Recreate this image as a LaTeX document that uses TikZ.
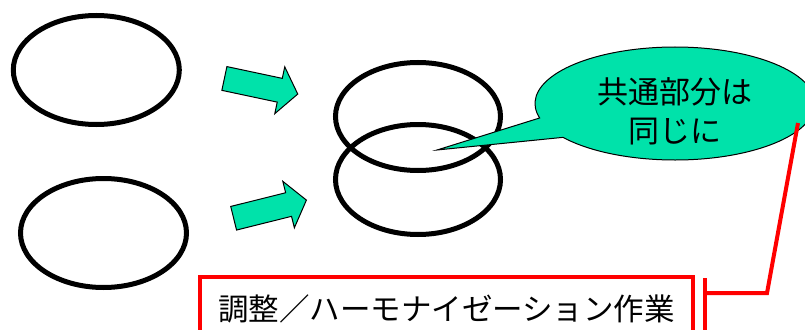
\documentclass[tikz,border=0pt]{standalone}
\usepackage{fontspec}
\newfontfamily\jp{Noto Sans CJK JP}
\usetikzlibrary{shapes.geometric,shapes.arrows,shapes.callouts}
\definecolor{mint}{RGB}{0,226,170}
\definecolor{pred}{RGB}{255,0,0}
\tikzset{
  ring/.style={draw=black, line width=5pt, ellipse, inner sep=0pt, outer sep=0pt,
    minimum width=166pt, minimum height=109pt},
  fatarrow/.style={single arrow, draw=black, line width=1pt, fill=mint,
    inner xsep=0pt, inner ysep=11.65pt, text height=0pt, text depth=0pt,
    minimum height=75pt, minimum width=47pt, single arrow head extend=11.8pt,
    single arrow tip angle=105},
  bubble/.style={ellipse callout, draw=black, line width=1pt, fill=mint, inner sep=0pt,
    minimum width=280pt, minimum height=113pt, callout pointer arc=22},
  bubbletext/.style={font=\jp\fontsize{31}{39}\selectfont, align=center, inner sep=0pt},
  redbox/.style={rectangle, draw=pred, line width=4pt, inner sep=0pt,
    minimum width=493pt, minimum height=64pt, font=\jp\fontsize{30.5}{36}\selectfont},
  redline/.style={draw=pred, line width=4pt}
}
\begin{document}
\begin{tikzpicture}[x=1pt,y=-1pt]
\useasboundingbox (0,0) rectangle (805,329);
\clip (0,0) rectangle (805,329);
% ellipses
\node[ring] (e1) at (96.3,70) {};
\node[ring] (e2) at (103.5,233) {};
\node[ring, minimum width=165pt, minimum height=108pt] (e3) at (418,116.5) {};
\node[ring, minimum width=165pt, minimum height=110pt] (e4) at (418,179.5) {};
% arrows
\node[fatarrow, rotate=-12] (a1) at (256.5,85.3) {};
\node[fatarrow, rotate=14] (a2) at (265.5,210.3) {};
% callout
\coordinate (tip) at (437,150);
\node[bubble, callout absolute pointer={(tip)}] (c) at (675,103.5) {};
\node[bubbletext] (ct) at ([yshift=-8pt]c.center) {共通部分は\\同じに};
% red box
\node[redbox] (box) at (446.5,309) {調整／ハーモナイゼーション作業};
% accent bar and leader line
\coordinate (bt) at (705,278);
\coordinate (bb) at (705,345);
\coordinate (k1) at (705,293);
\coordinate (k2) at (767,293);
\coordinate (k3) at (798,123);
\draw[redline] (bt) -- (bb);
\draw[redline, line join=miter] (k1) -- (k2) -- (k3);
\end{tikzpicture}
\end{document}
